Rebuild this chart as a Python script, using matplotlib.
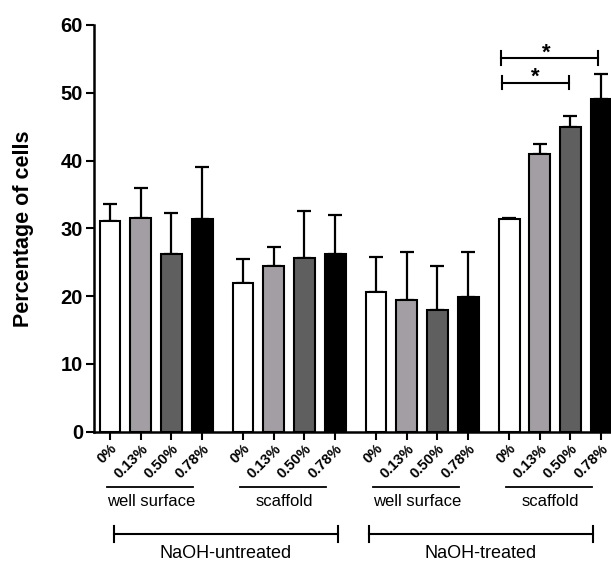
import matplotlib
matplotlib.use("Agg")
import matplotlib.pyplot as plt
import matplotlib.transforms as mtransforms
import numpy as np

plt.rcParams['font.family'] = ['Liberation Sans', 'DejaVu Sans']

conc_labels = ["0%", "0.13%", "0.50%", "0.78%"]
sub_groups = ["well surface", "scaffold", "well surface", "scaffold"]
main_groups = ["NaOH-untreated", "NaOH-treated"]
means = [31.1, 31.6, 26.2, 31.4,
         22.0, 24.4, 25.6, 26.2,
         20.6, 19.45, 17.9, 19.9,
         31.4, 41.0, 45.0, 49.1]
errs = [2.5, 4.3, 6.1, 7.7,
        3.5, 2.9, 6.9, 5.7,
        5.1, 7.05, 6.5, 6.6,
        0.2, 1.4, 1.6, 3.7]
colors = ["#ffffff", "#a39ea3", "#5f5f5f", "#000000"]

group_gap = 4 + 1/3
starts = [g * group_gap for g in range(4)]
x = np.array([s + i for s in starts for i in range(4)])
bar_colors = colors * 4
tick_labels = conc_labels * 4

fig = plt.figure(figsize=(6.11, 5.62), dpi=100)
ax = fig.add_axes([94/611, 1 - 431.7/562, 1 - 94/611, (431.7 - 25)/562])

ax.errorbar(x, means, yerr=[np.zeros(len(errs)), errs], fmt='none',
            ecolor='black', elinewidth=1.6, capsize=5, capthick=1.6, zorder=1)
ax.bar(x, means, width=0.68, color=bar_colors, edgecolor='black', linewidth=1.5, zorder=2)

ax.set_ylim(0, 60)
ax.set_xlim(-0.52, 16.32)
ax.set_yticks(range(0, 61, 10))
ax.set_xticks(x)
ax.set_xticklabels(tick_labels, rotation=45, ha='right', va='top',
                   rotation_mode='anchor', fontsize=10.5, fontweight='bold')
for lab in ax.get_yticklabels():
    lab.set_fontweight('bold')
ax.tick_params(axis='y', labelsize=14.5, length=6, width=1.5, pad=2)
ax.tick_params(axis='x', length=6, width=1.5, pad=1)
for s in ['top', 'right']:
    ax.spines[s].set_visible(False)
for s in ['left', 'bottom']:
    ax.spines[s].set_linewidth(1.8)
ax.set_ylabel("Percentage of cells", fontsize=15.5, fontweight='bold', labelpad=19)

# significance brackets
def bracket(x0, x1, y, star_x, star_y):
    ax.plot([x0, x1], [y, y], color='black', lw=1.5, clip_on=False)
    for xx in (x0, x1):
        ax.plot([xx, xx], [y - 1.0, y + 1.0], color='black', lw=1.5, clip_on=False)
    ax.text(star_x, star_y, "*", ha='center', va='center', fontsize=16, fontweight='bold')

bracket(12.75, 15.9, 55.1, 14.2, 55.9)
bracket(12.77, 14.95, 51.5, 13.87, 52.3)

# group annotations below axis
trans = mtransforms.blended_transform_factory(ax.transData, fig.transFigure)
for s, name in zip(starts, sub_groups):
    ax.plot([s - 0.1, s + 2.7], [1 - 487/562] * 2, color='black', lw=1.3,
            transform=trans, clip_on=False)
    ax.text(s + 1.35, 1 - 502/562, name, ha='center', va='center', fontsize=12,
            transform=trans)

big_spans = [(0.13, 7.43), (8.44, 15.73)]
for (a, b), name in zip(big_spans, main_groups):
    yb = 1 - 534/562
    ax.plot([a, b], [yb, yb], color='black', lw=1.5, transform=trans, clip_on=False)
    for xx in (a, b):
        ax.plot([xx, xx], [yb - 8/562, yb + 8/562], color='black', lw=1.5,
                transform=trans, clip_on=False)
    ax.text((a + b) / 2, 1 - 553/562, name, ha='center', va='center', fontsize=13,
            transform=trans)

fig.savefig("out.png", dpi=100)
